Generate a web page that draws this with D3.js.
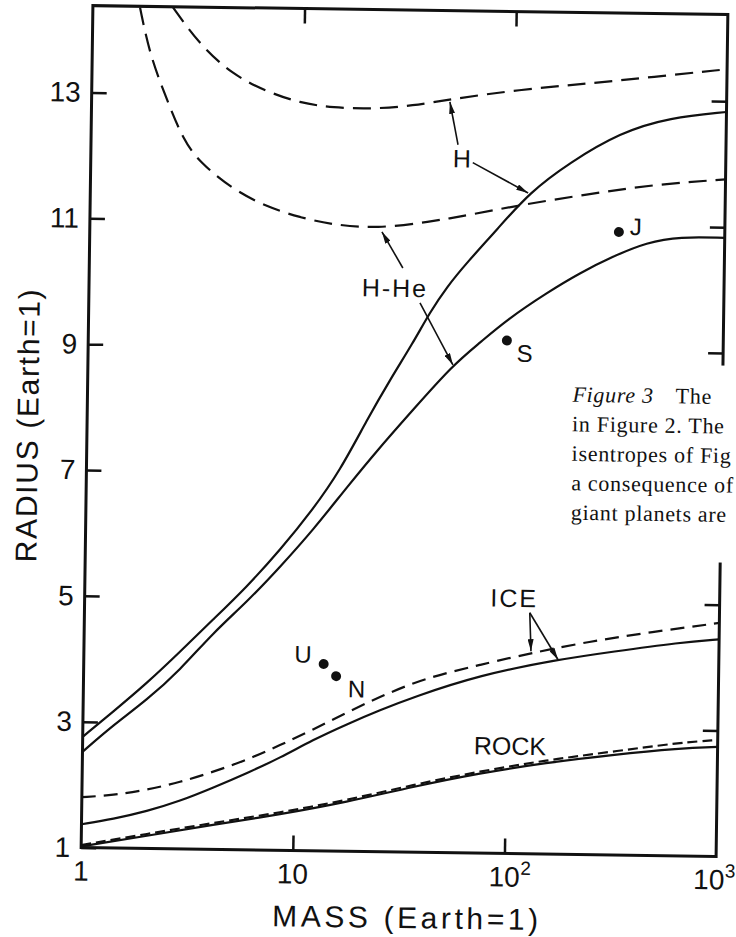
<!DOCTYPE html>
<html>
<head>
<meta charset="utf-8">
<title>Mass-radius relations</title>
<script src="https://cdn.jsdelivr.net/npm/d3@7"></script>
<style>
    body { margin: 0; background: #ffffff; }
    svg { display: block; }
</style>
</head>
<body>
<svg id="mass-radius" width="736" height="937"></svg>
<script>
// radius vs mass for H, H-He, ice and rock planets
const massTicks = [1, 10, 100, 1000];
const massTickBase = ['1', '10', '10', '10'];
const massTickPower = ['', '', '2', '3'];
const radiusTicks = [1, 3, 5, 7, 9, 11, 13];

// [mass, radius] in Earth units
const hDashed = [[2.39, 14.37], [3.22, 13.78], [4.63, 13.31], [6.73, 13.05], [9.64, 12.88], [13.8, 12.81],
    [21.4, 12.80], [33, 12.86], [49.3, 12.97], [105, 13.14], [218, 13.25], [447, 13.37], [1000, 13.51]];
const hHeDashed = [[1.67, 14.36], [1.87, 13.61], [2.27, 12.90], [2.72, 12.27], [3.28, 11.91], [4.72, 11.49],
    [6.85, 11.22], [9.8, 11.06], [14.1, 10.95], [22.7, 10.90], [40.4, 11.02], [60.5, 11.13], [105, 11.30],
    [222, 11.49], [455, 11.66], [1000, 11.76]];
const hSolid = [[1, 2.76], [1.38, 3.16], [2.0, 3.63], [2.84, 4.13], [4.05, 4.65], [5.83, 5.18], [8.31, 5.77],
    [11.8, 6.42], [15.8, 7.05], [21.0, 7.86], [26.8, 8.50], [34.2, 9.09], [40.9, 9.58], [49.1, 9.99],
    [60.8, 10.38], [83.8, 10.91], [119, 11.51], [183, 11.99], [315, 12.48], [541, 12.73], [1000, 12.83]];
const hHeSolid = [[1, 2.52], [1.39, 2.95], [2.0, 3.36], [2.85, 3.84], [4.06, 4.44], [5.85, 4.94], [8.33, 5.50],
    [11.9, 6.10], [17.1, 6.79], [24.3, 7.43], [34.6, 8.03], [53, 8.75], [70.9, 9.11], [94.6, 9.48],
    [146, 9.92], [208, 10.24], [297, 10.51], [429, 10.74], [614, 10.84], [1000, 10.83]];
const iceDashed = [[1, 1.80], [1.40, 1.84], [2.03, 1.93], [2.90, 2.06], [4.15, 2.23], [5.99, 2.43], [8.56, 2.67],
    [12.2, 2.92], [17.7, 3.21], [25.2, 3.46], [36.0, 3.69], [52.1, 3.86], [74.5, 3.99], [106, 4.12],
    [220, 4.36], [456, 4.54], [1000, 4.71]];
const iceSolid = [[1, 1.37], [1.41, 1.46], [2.03, 1.59], [2.91, 1.76], [4.17, 1.98], [6.02, 2.22], [8.59, 2.47],
    [12.2, 2.76], [17.7, 3.02], [25.3, 3.25], [36.0, 3.46], [74.6, 3.83], [172, 4.09], [315, 4.23],
    [653, 4.39], [1000, 4.45]];
const rockDashed = [[1, 1.04], [2.04, 1.23], [4.17, 1.42], [8.66, 1.60], [17.8, 1.81], [36.6, 2.07],
    [75.7, 2.30], [155, 2.49], [317, 2.64], [664, 2.80], [1000, 2.85]];
const rockSolid = [[1, 1.02], [2.04, 1.20], [4.17, 1.39], [8.66, 1.57], [17.8, 1.78], [36.6, 2.04],
    [75.7, 2.27], [155, 2.45], [317, 2.59], [664, 2.71], [1000, 2.74]];

const planetNames = ['J', 'S', 'U', 'N'];
const planetMass = [316, 95, 13.6, 15.6];
const planetRadius = [10.90, 9.15, 3.97, 3.78];

const curveLabels = ['H', 'H-He', 'ICE', 'ROCK'];
const curveLabelMass = [56.7, 27.9, 107, 104.5];
const curveLabelRadius = [11.89, 9.82, 4.92, 2.57];

// arrows: [from mass, from radius, to mass, to radius]
const arrows = [
    [54.2, 12.25, 49.3, 12.93],
    [63.8, 11.97, 117, 11.50],
    [30.3, 10.28, 24.0, 10.85],
    [36.7, 9.73, 53.0, 8.75],
    [127, 4.83, 129.4, 4.22],
    [127, 4.83, 174, 4.09]
];

const captionLines = ['in Figure 2. The', 'isentropes of Fig', 'a consequence of', 'giant planets are'];

const ink = '#111';
const sans = '"Liberation Sans", Arial, sans-serif';
const plot = { left: 87, right: 722, top: 10, bottom: 852 };

const svg = d3.select('#mass-radius');
const defs = svg.append('defs');

defs.append('clipPath')
    .attr('id', 'plot-clip')
    .append('rect')
    .attr('x', plot.left)
    .attr('y', plot.top)
    .attr('width', plot.right - plot.left)
    .attr('height', plot.bottom - plot.top);

defs.append('marker')
    .attr('id', 'arrow-head')
    .attr('viewBox', '0 0 12 6')
    .attr('refX', 12)
    .attr('refY', 3)
    .attr('markerWidth', 12)
    .attr('markerHeight', 6)
    .attr('markerUnits', 'userSpaceOnUse')
    .attr('orient', 'auto')
    .append('path')
    .attr('d', 'M0,0 L12,3 L0,6 Z')
    .attr('fill', ink);

// the scanned page sits a little tilted clockwise
const chart = svg.append('g')
    .attr('transform', 'rotate(0.8, 404, 431)');

const xScale = d3.scaleLog()
    .domain([1, 1000])
    .range([plot.left, plot.right]);

const yScale = d3.scaleLinear()
    .domain([1, 14.38])
    .range([plot.bottom, plot.top]);

// ticks point inwards on all four sides
const leftAxis = chart.append('g')
    .attr('transform', `translate(${plot.left}, 0)`)
    .call(d3.axisLeft(yScale)
        .tickValues(radiusTicks)
        .tickSizeInner(-15)
        .tickSizeOuter(0)
        .tickPadding(11)
        .tickFormat(d3.format('d')));

leftAxis.selectAll('text')
    .attr('font-family', sans)
    .attr('font-size', 28)
    .attr('fill', ink);

const rightAxis = chart.append('g')
    .attr('transform', `translate(${plot.right}, 0)`)
    .call(d3.axisRight(yScale)
        .tickValues(radiusTicks.slice(1))
        .tickSizeInner(-15)
        .tickSizeOuter(0)
        .tickFormat(''));

const topAxis = chart.append('g')
    .attr('transform', `translate(0, ${plot.top})`)
    .call(d3.axisTop(xScale)
        .tickValues(massTicks.slice(1, 3))
        .tickSizeInner(-15)
        .tickSizeOuter(0)
        .tickFormat(''));

const bottomAxis = chart.append('g')
    .attr('transform', `translate(0, ${plot.bottom})`)
    .call(d3.axisBottom(xScale)
        .tickValues(massTicks.slice(1, 3))
        .tickSizeInner(-15)
        .tickSizeOuter(0)
        .tickFormat(''));

[leftAxis, rightAxis, topAxis, bottomAxis].forEach(ax => {
    ax.select('.domain').remove();
    ax.selectAll('.tick line')
        .attr('stroke', ink)
        .attr('stroke-width', 2.5);
});

// mass labels, with the power written as a raised figure
const labelShift = [0, 0, 0, -7];
massTicks.forEach((m, i) => {
    chart.append('text')
        .attr('x', xScale(m) + labelShift[i])
        .attr('y', plot.bottom + 33)
        .attr('text-anchor', 'middle')
        .attr('font-family', sans)
        .attr('font-size', 28)
        .attr('fill', ink)
        .text(massTickBase[i]);

    if (massTickPower[i]) {
        chart.append('text')
            .attr('x', xScale(m) + labelShift[i] + 16)
            .attr('y', plot.bottom + 21)
            .attr('font-family', sans)
            .attr('font-size', 19)
            .attr('fill', ink)
            .text(massTickPower[i]);
    }
});

// curves (a B-spline through the read points keeps them smooth like the pen lines)
const line = d3.line()
    .x(d => xScale(d[0]))
    .y(d => yScale(d[1]))
    .curve(d3.curveBasis);

const curves = [
    { points: hDashed, dash: '18 9' },
    { points: hHeDashed, dash: '18 9' },
    { points: hSolid, dash: null },
    { points: hHeSolid, dash: null },
    { points: iceDashed, dash: '14 8' },
    { points: iceSolid, dash: null },
    { points: rockDashed, dash: '10 5' },
    { points: rockSolid, dash: null }
];

chart.append('g')
    .attr('clip-path', 'url(#plot-clip)')
    .selectAll('path')
    .data(curves)
    .enter()
    .append('path')
    .attr('d', c => line(c.points))
    .attr('fill', 'none')
    .attr('stroke', ink)
    .attr('stroke-width', 2.2)
    .attr('stroke-dasharray', c => c.dash);

// frame
chart.append('rect')
    .attr('x', plot.left)
    .attr('y', plot.top)
    .attr('width', plot.right - plot.left)
    .attr('height', plot.bottom - plot.top)
    .attr('fill', 'none')
    .attr('stroke', ink)
    .attr('stroke-width', 3);

// planets
planetNames.forEach((name, i) => {
    chart.append('circle')
        .attr('cx', xScale(planetMass[i]))
        .attr('cy', yScale(planetRadius[i]))
        .attr('r', 5)
        .attr('fill', ink);
});

const planetOffset = [[11, 3, 'start'], [10, 21, 'start'], [-12, -1, 'end'], [12, 21, 'start']];
chart.selectAll('.planet-name')
    .data(planetNames)
    .enter()
    .append('text')
    .attr('class', 'planet-name')
    .attr('x', (d, i) => xScale(planetMass[i]) + planetOffset[i][0])
    .attr('y', (d, i) => yScale(planetRadius[i]) + planetOffset[i][1])
    .attr('text-anchor', (d, i) => planetOffset[i][2])
    .attr('font-family', sans)
    .attr('font-size', 24)
    .attr('fill', ink)
    .text(d => d);

// curve names and their arrows
chart.selectAll('.curve-name')
    .data(curveLabels)
    .enter()
    .append('text')
    .attr('class', 'curve-name')
    .attr('x', (d, i) => xScale(curveLabelMass[i]))
    .attr('y', (d, i) => yScale(curveLabelRadius[i]))
    .attr('text-anchor', 'middle')
    .attr('font-family', sans)
    .attr('font-size', 25)
    .attr('letter-spacing', d => (d === 'H-He' || d === 'ICE') ? 2 : 0)
    .attr('fill', ink)
    .text(d => d);

chart.selectAll('.pointer')
    .data(arrows)
    .enter()
    .append('line')
    .attr('class', 'pointer')
    .attr('x1', a => xScale(a[0]))
    .attr('y1', a => yScale(a[1]))
    .attr('x2', a => xScale(a[2]))
    .attr('y2', a => yScale(a[3]))
    .attr('stroke', ink)
    .attr('stroke-width', 1.6)
    .attr('marker-end', 'url(#arrow-head)');

// axis titles
chart.append('text')
    .attr('x', 412)
    .attr('y', 928)
    .attr('text-anchor', 'middle')
    .attr('font-family', sans)
    .attr('font-size', 30)
    .attr('textLength', 266)
    .attr('lengthAdjust', 'spacing')
    .attr('fill', ink)
    .text('MASS (Earth=1)');

chart.append('text')
    .attr('transform', 'translate(38, 431) rotate(-90)')
    .attr('text-anchor', 'middle')
    .attr('font-family', sans)
    .attr('font-size', 30)
    .attr('textLength', 273)
    .attr('lengthAdjust', 'spacing')
    .attr('fill', ink)
    .text('RADIUS (Earth=1)');

// caption of the page, laid over the right edge of the plot
chart.append('rect')
    .attr('x', 560)
    .attr('y', 361)
    .attr('width', 200)
    .attr('height', 197)
    .attr('fill', '#ffffff');

const caption = chart.append('g')
    .attr('font-family', '"Liberation Serif", "Times New Roman", serif')
    .attr('font-size', 22)
    .attr('letter-spacing', 0.7)
    .attr('fill', ink);

const firstLine = caption.append('text')
    .attr('x', 572)
    .attr('y', 399.5);
firstLine.append('tspan')
    .attr('font-style', 'italic')
    .text('Figure 3');
firstLine.append('tspan')
    .attr('dx', 22)
    .text('The');

caption.selectAll('.caption-line')
    .data(captionLines)
    .enter()
    .append('text')
    .attr('class', 'caption-line')
    .attr('x', 572)
    .attr('y', (d, i) => 399.5 + 29.5 * (i + 1))
    .text(d => d);
</script>
</body>
</html>
